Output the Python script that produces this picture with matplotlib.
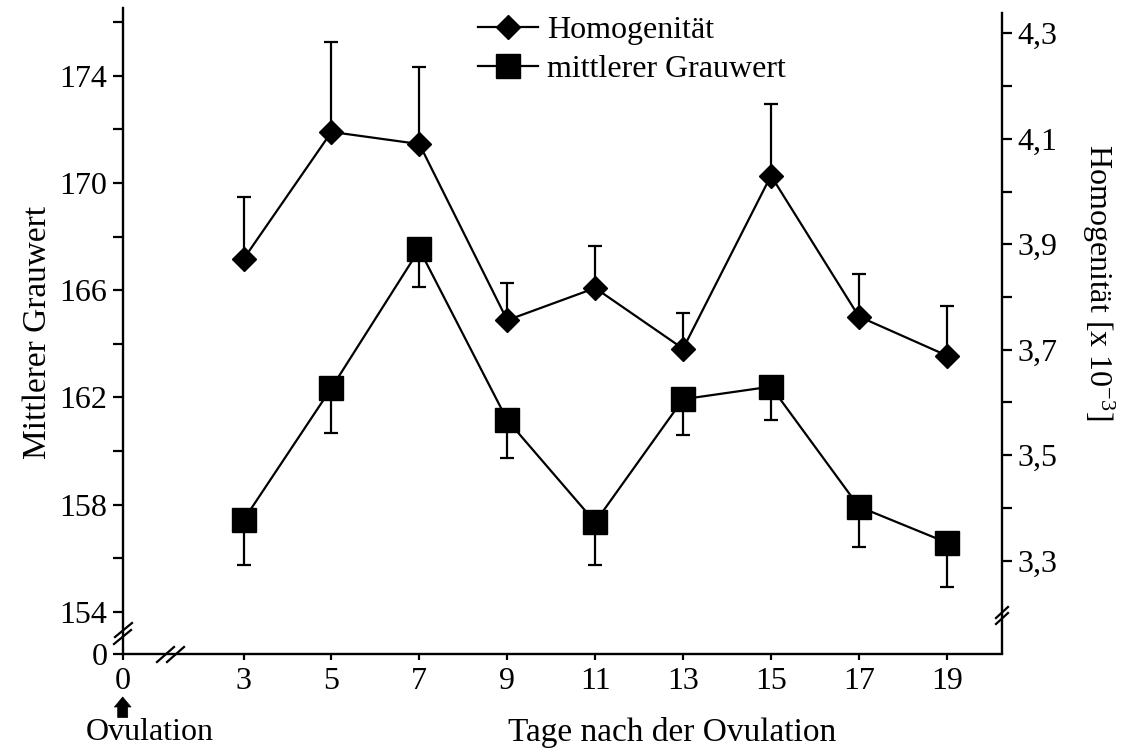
import numpy as np
import matplotlib
matplotlib.use('Agg')
import matplotlib.pyplot as plt
import matplotlib as mpl
from matplotlib.lines import Line2D

mpl.rcParams['font.family'] = ['Liberation Serif', 'DejaVu Serif']
mpl.rcParams['font.size'] = 23
mpl.rcParams['mathtext.fontset'] = 'custom'
mpl.rcParams['mathtext.rm'] = 'Liberation Serif'
mpl.rcParams['mathtext.it'] = 'Liberation Serif:italic'

# data
tage = [3, 5, 7, 9, 11, 13, 15, 17, 19]
homogen = [3.872, 4.113, 4.090, 3.756, 3.817, 3.702, 4.030, 3.763, 3.689]
homogen_sd = [0.118, 0.171, 0.147, 0.070, 0.080, 0.067, 0.136, 0.081, 0.094]
grauwert = [157.42, 162.35, 167.52, 161.15, 157.34, 161.93, 162.40, 157.92, 156.58]
grauwert_sd = [1.68, 1.68, 1.39, 1.43, 1.60, 1.34, 1.24, 1.49, 1.67]

x_ticks = [3, 5, 7, 9, 11, 13, 15, 17, 19]
left_major = [154, 158, 162, 166, 170, 174]
left_minor = [156, 160, 164, 168, 172, 176]
right_major = [3.3, 3.5, 3.7, 3.9, 4.1, 4.3]
right_minor = [3.4, 3.6, 3.8, 4.0, 4.2]

W, H = 1121, 752
fig = plt.figure(figsize=(W / 100, H / 100), dpi=100)
ax = fig.add_axes([122.7 / W, 1 - 653.5 / H, 879 / W, 645.5 / H])
ax2 = ax.twinx()

lw = 1.6
xmin, xmax = 0.25, 20.25
ax.set_xlim(xmin, xmax)
ax.set_ylim(152.44, 176.53)
ax2.set_ylim(3.124, 4.348)

# Grauwert (left axis), lower error bars only
ax.errorbar(tage, grauwert, yerr=[grauwert_sd, np.zeros(len(tage))], fmt='none',
            ecolor='k', elinewidth=lw, capsize=4.7, capthick=lw, zorder=2)
ln2, = ax.plot(tage, grauwert, 's-', color='k', ms=17, lw=lw, zorder=3,
               label='mittlerer Grauwert')

# Homogenitaet (right axis), upper error bars only
ax2.errorbar(tage, homogen, yerr=[np.zeros(len(tage)), homogen_sd], fmt='none',
             ecolor='k', elinewidth=lw, capsize=4.7, capthick=lw, zorder=2)
ln1, = ax2.plot(tage, homogen, 'D-', color='k', ms=12, lw=lw, zorder=3,
                label='Homogenität')

for a in (ax, ax2):
    for s in a.spines.values():
        s.set_linewidth(1.7)
    a.spines['top'].set_visible(False)
ax.spines['right'].set_visible(False)
ax2.spines['left'].set_visible(False)
ax2.spines['bottom'].set_visible(False)
ax2.spines['right'].set_bounds(3.124, 4.339)

ax.set_xticks([xmin] + x_ticks)
ax.set_xticklabels(['0'] + [str(t) for t in x_ticks])
ax.tick_params(axis='x', direction='out', length=4, width=1.6, pad=6)

ax.set_yticks([152.44] + left_major)
ax.set_yticklabels(['0'] + [str(v) for v in left_major])
ax.set_yticks(left_minor, minor=True)
ax.tick_params(axis='y', which='both', direction='out', length=7, width=1.6, pad=4)

ax2.set_yticks(right_major)
ax2.set_yticklabels([('%.1f' % v).replace('.', ',') for v in right_major])
ax2.set_yticks(right_minor, minor=True)
ax2.tick_params(axis='y', which='both', direction='out', length=7, width=1.6, pad=4)


def px(x, y):
    return x / W, 1 - y / H


def slashes(pairs):
    for (x0, y0), (x1, y1) in pairs:
        a0, b0 = px(x0, y0)
        a1, b1 = px(x1, y1)
        fig.add_artist(Line2D([a0, a1], [b0, b1], color='k', lw=1.6,
                              transform=fig.transFigure))


# axis break marks
slashes([((157, 662), (174, 647)), ((167, 662), (184, 647))])
slashes([((114, 644), (131, 630)), ((115, 637), (132, 623))])
slashes([((996, 618), (1008, 607)), ((996, 624), (1008, 613))])

# labels
fig.text(*px(38, 332), 'Mittlerer Grauwert', rotation=90, ha='center', va='center',
         fontsize=24)
fig.text(*px(1098, 282), 'Homogenität [x 10$^{\\mathregular{-3}}$]', rotation=-90,
         ha='center', va='center')
fig.text(*px(672, 733), 'Tage nach der Ovulation', ha='center', va='center', fontsize=24)
fig.text(*px(150, 733), 'Ovulation', ha='center', va='center')

ax.annotate('', xy=(0, -43.5 / 645.5), xytext=(0, -64 / 645.5), xycoords='axes fraction',
            arrowprops=dict(arrowstyle='simple,head_length=0.6,head_width=1.0,tail_width=0.6',
                            fc='k', ec='k', lw=0.5, shrinkA=0, shrinkB=0, mutation_scale=12),
            annotation_clip=False)

fig.legend(handles=[ln1, ln2], loc='upper left', bbox_to_anchor=px(478, 16),
           frameon=False, borderpad=0, borderaxespad=0, handlelength=1.87,
           handletextpad=0.28, labelspacing=0.29, fontsize=23)

fig.savefig('out.png', dpi=100)
